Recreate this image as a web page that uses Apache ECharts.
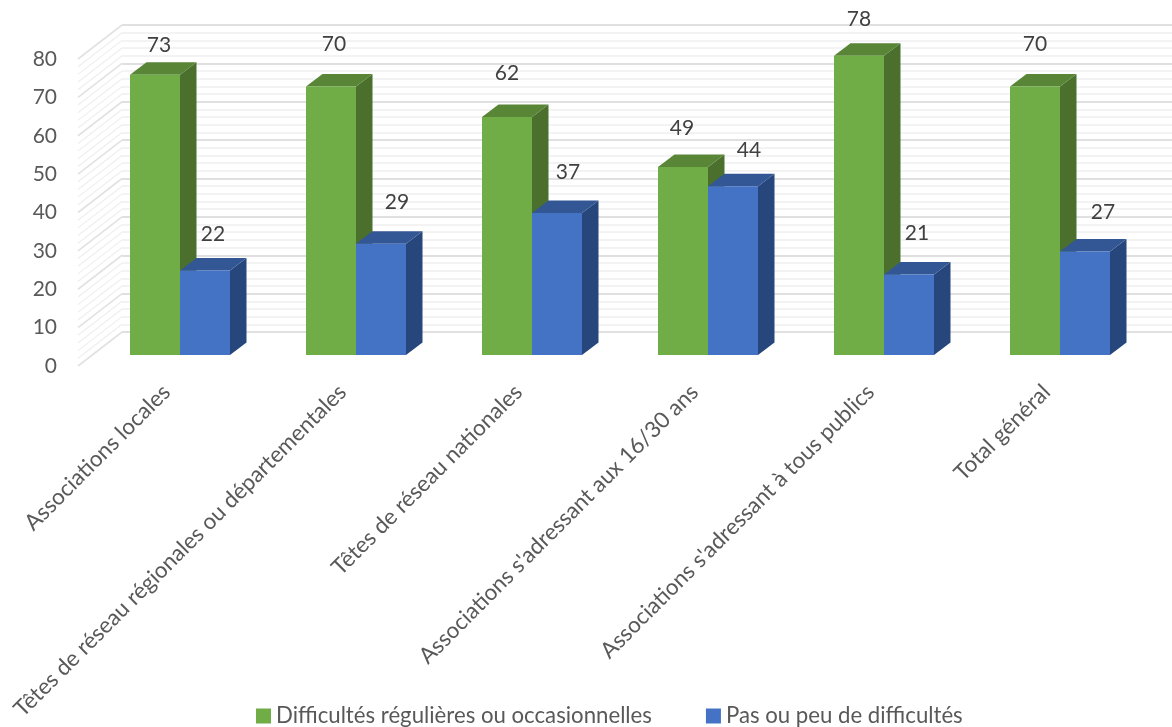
<!DOCTYPE html>
<html>
<head>
<meta charset="utf-8">
<style>html,body{margin:0;padding:0;background:#fff}#c{width:1172px;height:727px}</style>
<script src="https://cdn.jsdelivr.net/npm/echarts@6/dist/echarts.min.js"></script>
</head>
<body>
<div id="c"></div>
<script>
const categories = ["Associations locales","Têtes de réseau régionales ou départementales","Têtes de réseau nationales","Associations s'adressant aux 16/30 ans","Associations s'adressant à tous publics","Total général"];
const seriesNames = ["Difficultés régulières ou occasionnelles","Pas ou peu de difficultés"];
const difficultes = [73,70,62,49,78,70];
const pasDifficultes = [22,29,37,44,21,27];
const wallTicks = [0,2,4,6,8,10,12,14,16,18,20,22,24,26,28,30,32,34,36,38,40,42,44,46,48,50,52,54,56,58,60,62,64,66,68,70,72,74,76,78,80];

// label placement relative to the bar's top-centre (dx, rise), layout only
const greenNudge = [[4,30],[3,42],[0,44],[-1,39],[0,36],[0,42]];
const blueNudge = [[8,36],[16,41],[11,41],[16,36],[8,41],[18,39]];

const FONT = 'Lato';
const BAR_FRAC = 50/176, DX = 16.5, DY = -12.5;

function bar3d(side, colors, nudge) {
  return function (params, api) {
    const i = api.value(0), v = api.value(1);
    const c = api.coord([i, v]), b = api.coord([i, 0]);
    const w = api.size([1, 0])[0] * BAR_FRAC;
    const x0 = side < 0 ? c[0] - w : c[0], x1 = x0 + w;
    const t = c[1], u = b[1];
    const poly = (pts, fill) => ({type:'polygon', shape:{points:pts}, style:{fill}});
    return {type:'group', children:[
      poly([[x1,t],[x1+DX,t+DY],[x1+DX,u+DY],[x1,u]], colors[1]),
      poly([[x0,t],[x0+DX,t+DY],[x1+DX,t+DY],[x1,t]], colors[2]),
      {type:'rect', shape:{x:x0,y:t,width:w,height:u-t}, style:{fill:colors[0]}},
      {type:'text', z2:10, style:{text:String(v), x:(x0+x1)/2+nudge[i][0], y:t-nudge[i][1],
        align:'center', verticalAlign:'middle', fill:'#404040', font:'21px '+FONT}}
    ]};
  };
}

function wallLines(params, api) {
  const v = api.value(1);
  const p = api.coord([0, v]);
  const major = v % 10 === 0;
  return {type:'line', shape:{x1:p[0],y1:p[1],x2:p[0]+44,y2:p[1]-34},
    style:{stroke: major ? '#e2e2e2' : '#efefef', lineWidth: major ? 1.6 : 1.2}};
}

const hiddenX = i => ({type:'value', gridIndex:i, min:0, max:1, show:false});

const chart = echarts.init(document.getElementById('c'));
chart.setOption({
  animation:false,
  backgroundColor:'#fff',
  textStyle:{fontFamily:FONT},
  legend:{left:251, top:700, icon:'rect', itemWidth:15, itemHeight:15, itemGap:54,
    selectedMode:false, data:seriesNames,
    textStyle:{fontFamily:FONT, fontSize:22.2, color:'#595959'}},
  grid:[
    {left:78, top:59, width:44, height:307},
    {left:122, top:25, right:0, height:307},
    {left:92, top:48, width:1056, height:307}
  ],
  xAxis:[
    hiddenX(0),
    hiddenX(1),
    {type:'category', gridIndex:2, data:categories,
     axisLine:{show:false}, axisTick:{show:false},
     axisLabel:{interval:0, rotate:45, margin:20, padding:[0,19,0,0], color:'#595959', fontFamily:FONT, fontSize:22.4}}
  ],
  yAxis:[
    {type:'value', gridIndex:0, min:0, max:80, interval:10,
     axisLine:{show:false}, axisTick:{show:false}, splitLine:{show:false},
     axisLabel:{margin:21, color:'#595959', fontFamily:FONT, fontSize:21}},
    {type:'value', gridIndex:1, min:0, max:80, interval:10,
     axisLine:{show:false}, axisTick:{show:false}, axisLabel:{show:false},
     splitLine:{show:true, lineStyle:{color:'#e0e0e0', width:2}},
     minorTick:{show:false, splitNumber:5},
     minorSplitLine:{show:true, lineStyle:{color:'#efefef', width:1.5}}},
    {type:'value', gridIndex:2, min:0, max:80, interval:10, show:false}
  ],
  series:[
    {type:'custom', name:'wall', xAxisIndex:0, yAxisIndex:0, silent:true, z:1, clip:false,
     renderItem:wallLines, data:wallTicks.map(t=>[0,t]), encode:{x:0,y:1}},
    {type:'custom', name:seriesNames[0], xAxisIndex:2, yAxisIndex:2, z:3, clip:false,
     itemStyle:{color:'#70AD47'},
     renderItem:bar3d(-1,['#70AD47','#4B702E','#588636'],greenNudge),
     data:difficultes.map((v,i)=>[i,v]), encode:{x:0,y:1}},
    {type:'custom', name:seriesNames[1], xAxisIndex:2, yAxisIndex:2, z:4, clip:false,
     itemStyle:{color:'#4472C4'},
     renderItem:bar3d(1,['#4472C4','#27467C','#335695'],blueNudge),
     data:pasDifficultes.map((v,i)=>[i,v]), encode:{x:0,y:1}}
  ]
});
</script>
</body>
</html>
